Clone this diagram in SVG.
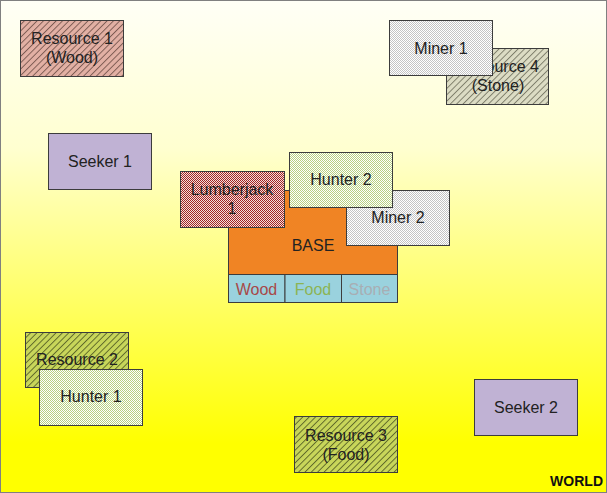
<svg xmlns="http://www.w3.org/2000/svg" width="607" height="493" viewBox="0 0 607 493">
<defs>
<linearGradient id="bg" x1="0" y1="0" x2="0" y2="1">
<stop offset="0" stop-color="#FFFFF6"/>
<stop offset="0.3" stop-color="#FFFFD0"/>
<stop offset="0.9" stop-color="#FFFF00"/>
<stop offset="1" stop-color="#FFFF00"/>
</linearGradient>
<pattern id="hRed" width="4.5" height="4.5" patternUnits="userSpaceOnUse" patternTransform="rotate(45)">
<rect width="4.5" height="4.5" fill="#E2B0A4"/>
<line x1="0.5" y1="0" x2="0.5" y2="4.5" stroke="#6A4A44" stroke-width="0.8"/>
</pattern>
<pattern id="hGreen" width="4.5" height="4.5" patternUnits="userSpaceOnUse" patternTransform="rotate(45)">
<rect width="4.5" height="4.5" fill="#C8D65A"/>
<line x1="0.5" y1="0" x2="0.5" y2="4.5" stroke="#4A5220" stroke-width="0.8"/>
</pattern>
<pattern id="hGray" width="4.5" height="4.5" patternUnits="userSpaceOnUse" patternTransform="rotate(45)">
<rect width="4.5" height="4.5" fill="#DCDCC4"/>
<line x1="0.5" y1="0" x2="0.5" y2="4.5" stroke="#6A6A58" stroke-width="0.8"/>
</pattern>
<pattern id="cRed" width="2" height="2" patternUnits="userSpaceOnUse">
<rect width="2" height="2" fill="#F4E0DC"/>
<rect width="1" height="1" fill="#A02424"/>
<rect x="1" y="1" width="1" height="1" fill="#A02424"/>
</pattern>
<pattern id="cGray" width="2" height="2" patternUnits="userSpaceOnUse">
<rect width="2" height="2" fill="#FFFFFF"/>
<rect width="1" height="1" fill="#C4C4C4"/>
<rect x="1" y="1" width="1" height="1" fill="#C4C4C4"/>
</pattern>
<pattern id="cGreen" width="2" height="2" patternUnits="userSpaceOnUse">
<rect width="2" height="2" fill="#FFFFFF"/>
<rect width="1" height="1" fill="#B8D080"/>
<rect x="1" y="1" width="1" height="1" fill="#B8D080"/>
</pattern>
</defs>
<style>
.b{stroke:#3C3C3C;stroke-width:1}
text{font-family:"Liberation Sans",Arial,sans-serif;font-size:16px;fill:#222;text-anchor:middle}
</style>
<rect x="0.5" y="0.5" width="606" height="492" fill="url(#bg)" stroke="#808080"/>
<g id="connectors"/>
<g id="resource1"><rect class="b" x="20.5" y="20.5" width="103" height="56" fill="url(#hRed)"/><text x="72" y="44">Resource 1</text><text x="72" y="63">(Wood)</text></g>
<g id="resource4"><rect class="b" x="446.5" y="48.5" width="102" height="56" fill="url(#hGray)"/><text x="498" y="72">Resource 4</text><text x="498" y="91">(Stone)</text></g>
<g id="miner1"><rect class="b" x="389.5" y="20.5" width="103" height="55" fill="url(#cGray)"/><text x="441" y="54">Miner 1</text></g>
<g id="seeker1"><rect class="b" x="48.5" y="133.5" width="103" height="56" fill="#C0B2D4"/><text x="100" y="167">Seeker 1</text></g>
<g id="base"><rect class="b" x="228.5" y="190.5" width="169" height="84" fill="#F08424"/><text x="313" y="251">BASE</text>
<rect class="b" x="228.5" y="274.5" width="56.5" height="28" fill="#9AD2DE"/><text x="256.5" y="294.5" style="fill:#A84848">Wood</text>
<rect class="b" x="285" y="274.5" width="56.5" height="28" fill="#9AD2DE"/><text x="313" y="294.5" style="fill:#8CB454">Food</text>
<rect class="b" x="341.5" y="274.5" width="56" height="28" fill="#9AD2DE"/><text x="369.5" y="294.5" style="fill:#A8AEB4">Stone</text></g>
<g id="lumberjack1"><rect class="b" x="180.5" y="171.5" width="104" height="56" fill="url(#cRed)"/><text x="232" y="195">Lumberjack</text><text x="232" y="214">1</text></g>
<g id="miner2"><rect class="b" x="346.5" y="190.5" width="103" height="55" fill="url(#cGray)"/><text x="398" y="223">Miner 2</text></g>
<g id="hunter2"><rect class="b" x="289.5" y="152.5" width="103" height="55" fill="url(#cGreen)"/><text x="341" y="185">Hunter 2</text></g>
<g id="resource2"><rect class="b" x="25.5" y="332.5" width="103" height="55" fill="url(#hGreen)"/><text x="77" y="365">Resource 2</text></g>
<g id="hunter1"><rect class="b" x="39.5" y="369.5" width="103" height="56" fill="url(#cGreen)"/><text x="91" y="402">Hunter 1</text></g>
<g id="resource3"><rect class="b" x="294.5" y="416.5" width="103" height="56" fill="url(#hGreen)"/><text x="346" y="441">Resource 3</text><text x="346" y="460">(Food)</text></g>
<g id="seeker2"><rect class="b" x="474.5" y="379.5" width="103" height="56" fill="#C0B2D4"/><text x="526" y="413">Seeker 2</text></g>
<text x="603" y="486" style="text-anchor:end;font-weight:bold;font-size:14px;fill:#111">WORLD</text>
</svg>
